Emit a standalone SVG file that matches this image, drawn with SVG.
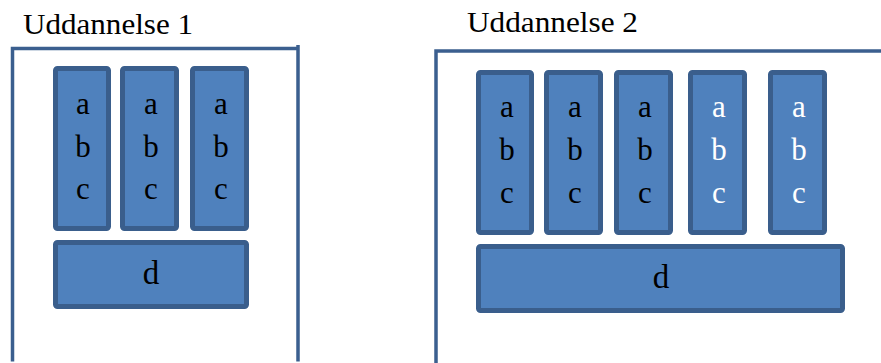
<svg xmlns="http://www.w3.org/2000/svg" width="881" height="363" viewBox="0 0 881 363">
  <style>
    .frame { fill: none; stroke: #3b5f8f; stroke-width: 3.5; }
    .box { fill: #4f81bd; stroke: #3a5e8c; stroke-width: 5; }
    .title { font-family: 'Liberation Serif', 'Times New Roman', serif; font-size: 30px; fill: #000; }
    .lbl { font-family: 'Liberation Serif', 'Times New Roman', serif; font-size: 31px; text-anchor: middle; fill: #000; }
    .lbl.w { fill: #fff; }
    .lbl.big { font-size: 33px; }
  </style>

  <!-- Programme 1 -->
  <g id="uddannelse1">
    <text class="title" x="23" y="34" textLength="170" lengthAdjust="spacingAndGlyphs">Uddannelse 1</text>
    <path class="frame" d="M12.5 361.5 V48.5 H298 M298 45 V361.5"/>
  </g>
  <g id="u1-col1">
    <rect class="box" x="55.5" y="68.5" width="53" height="160" rx="2"/>
    <text class="lbl" x="83" y="114">a</text>
    <text class="lbl" x="83" y="157">b</text>
    <text class="lbl" x="83" y="199">c</text>
  </g>
  <g id="u1-col2">
    <rect class="box" x="122.5" y="68.5" width="54" height="160" rx="2"/>
    <text class="lbl" x="151" y="114">a</text>
    <text class="lbl" x="151" y="157">b</text>
    <text class="lbl" x="151" y="199">c</text>
  </g>
  <g id="u1-col3">
    <rect class="box" x="192.5" y="68.5" width="54" height="160" rx="2"/>
    <text class="lbl" x="221" y="114">a</text>
    <text class="lbl" x="221" y="157">b</text>
    <text class="lbl" x="221" y="199">c</text>
  </g>
  <g id="u1-d">
    <rect class="box" x="55.5" y="242.5" width="191" height="64" rx="2"/>
    <text class="lbl big" x="151" y="284">d</text>
  </g>

  <!-- Programme 2 -->
  <g id="uddannelse2">
    <text class="title" x="467" y="32" textLength="171" lengthAdjust="spacingAndGlyphs">Uddannelse 2</text>
    <path class="frame" d="M436 363 V51 H881"/>
  </g>
  <g id="u2-col1">
    <rect class="box" x="478.5" y="72.5" width="53" height="160" rx="2"/>
    <text class="lbl" x="507" y="117">a</text>
    <text class="lbl" x="507" y="160">b</text>
    <text class="lbl" x="507" y="203">c</text>
  </g>
  <g id="u2-col2">
    <rect class="box" x="546.5" y="72.5" width="54" height="160" rx="2"/>
    <text class="lbl" x="575" y="117">a</text>
    <text class="lbl" x="575" y="160">b</text>
    <text class="lbl" x="575" y="203">c</text>
  </g>
  <g id="u2-col3">
    <rect class="box" x="616.5" y="72.5" width="54" height="160" rx="2"/>
    <text class="lbl" x="645" y="117">a</text>
    <text class="lbl" x="645" y="160">b</text>
    <text class="lbl" x="645" y="203">c</text>
  </g>
  <g id="u2-col4">
    <rect class="box" x="690.5" y="72.5" width="54" height="160" rx="2"/>
    <text class="lbl w" x="719" y="117">a</text>
    <text class="lbl w" x="719" y="160">b</text>
    <text class="lbl w" x="719" y="203">c</text>
  </g>
  <g id="u2-col5">
    <rect class="box" x="770.5" y="72.5" width="54" height="160" rx="2"/>
    <text class="lbl w" x="799" y="117">a</text>
    <text class="lbl w" x="799" y="160">b</text>
    <text class="lbl w" x="799" y="203">c</text>
  </g>
  <g id="u2-d">
    <rect class="box" x="478.5" y="246.5" width="364" height="64" rx="2"/>
    <text class="lbl big" x="661" y="288">d</text>
  </g>

  <!-- no connectors in this figure -->
  <g id="connectors"/>
</svg>
